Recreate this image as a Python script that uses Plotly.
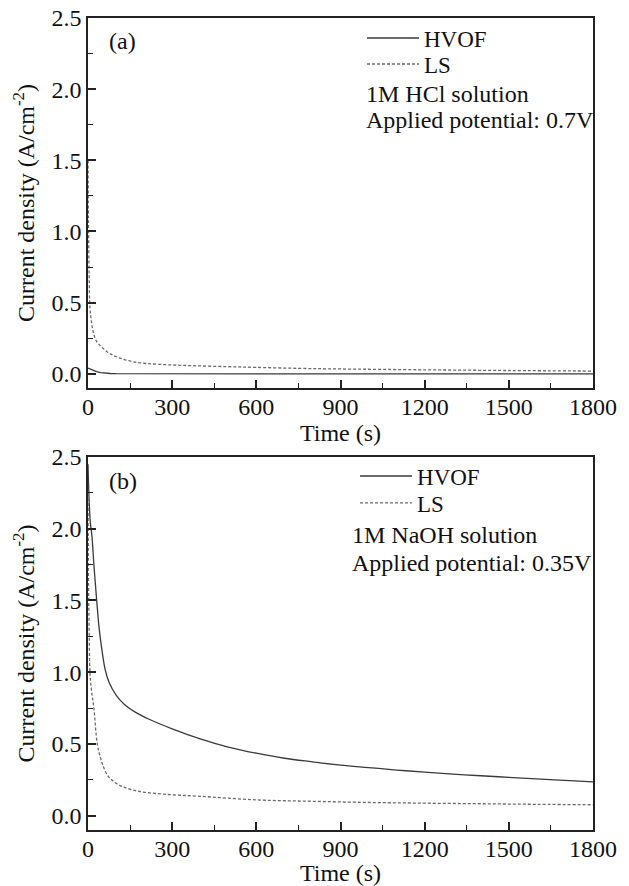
import plotly.graph_objects as go

# ---- Data ----
# Panel (a): 1M HCl, applied potential 0.7 V
t_a_hvof = [0, 5, 10, 20, 30, 45, 60, 80, 100, 200, 400, 600, 900, 1200, 1500, 1800]
j_a_hvof = [0.04, 0.035, 0.03, 0.022, 0.015, 0.008, 0.004, 0.002, 0.001, 0.0, 0.0, 0.0, 0.0, 0.0, 0.0, 0.0]

t_a_ls = [0, 1, 2, 4, 7, 12, 18, 30, 53, 80, 114, 160, 210, 300, 388, 500, 600, 756, 900, 1200, 1500, 1800]
j_a_ls = [1.5, 1.2, 1.0, 0.7, 0.46, 0.37, 0.30, 0.23, 0.18, 0.14, 0.11, 0.085, 0.072, 0.062, 0.056,
          0.05, 0.045, 0.038, 0.034, 0.028, 0.023, 0.019]

# Panel (b): 1M NaOH, applied potential 0.35 V
t_b_hvof = [0, 3, 8, 14, 21, 31, 40, 50, 61, 75, 100, 130, 170, 220, 300, 400, 500, 600, 700, 800,
            900, 1000, 1100, 1200, 1300, 1400, 1500, 1600, 1700, 1800]
j_b_hvof = [2.45, 2.25, 2.05, 1.95, 1.75, 1.5, 1.3, 1.15, 1.02, 0.93, 0.84, 0.775, 0.72, 0.67, 0.605,
            0.535, 0.478, 0.435, 0.40, 0.375, 0.352, 0.335, 0.318, 0.303, 0.29, 0.278, 0.267, 0.256,
            0.246, 0.236]

t_b_ls = [0, 2, 4, 7, 12, 21, 33, 45, 55, 70, 84, 105, 126, 180, 268, 400, 600, 800, 1000, 1200,
          1400, 1600, 1800]
j_b_ls = [2.25, 1.6, 1.3, 1.0, 0.88, 0.75, 0.5, 0.4, 0.34, 0.28, 0.25, 0.22, 0.2, 0.17, 0.15, 0.135,
          0.11, 0.1, 0.092, 0.087, 0.083, 0.079, 0.076]

x_ticks = [0, 300, 600, 900, 1200, 1500, 1800]
y_ticks = [0.0, 0.5, 1.0, 1.5, 2.0, 2.5]

FONT = "Liberation Serif, Times New Roman, serif"
SOLID_COLOR = "#3a3a3a"
DOT_COLOR = "#6a6a6a"
TXT = "#111"

fig = go.Figure()

fig.add_trace(go.Scatter(x=t_a_hvof, y=j_a_hvof, mode="lines", name="HVOF",
                         line=dict(color=SOLID_COLOR, width=1.3), xaxis="x", yaxis="y",
                         legend="legend"))
fig.add_trace(go.Scatter(x=t_a_ls, y=j_a_ls, mode="lines", name="LS",
                         line=dict(color=DOT_COLOR, width=1.3, dash="3px,2px", shape="spline"),
                         xaxis="x", yaxis="y", legend="legend2"))
fig.add_trace(go.Scatter(x=t_b_hvof, y=j_b_hvof, mode="lines", name="HVOF",
                         line=dict(color=SOLID_COLOR, width=1.3, shape="spline"),
                         xaxis="x2", yaxis="y2", legend="legend3"))
fig.add_trace(go.Scatter(x=t_b_ls, y=j_b_ls, mode="lines", name="LS",
                         line=dict(color=DOT_COLOR, width=1.3, dash="3px,2px", shape="spline"),
                         xaxis="x2", yaxis="y2", legend="legend4"))

axis_common = dict(
    showline=True, linecolor="#222", linewidth=1.6, mirror=True,
    ticks="inside", ticklen=8, tickwidth=1.5, tickcolor="#222",
    showgrid=False, zeroline=False, ticklabeloverflow="allow",
    tickfont=dict(family=FONT, size=24, color=TXT),
)

xaxis_common = dict(axis_common, range=[0, 1800], tickvals=x_ticks, ticklabelstandoff=-4,
                    minor=dict(ticks="inside", ticklen=5, tickwidth=1.3, tickcolor="#222", dtick=150, tick0=0),
                    title=dict(text="Time (s)", font=dict(family=FONT, size=24, color=TXT), standoff=0))
yaxis_common = dict(axis_common, range=[-0.1, 2.5], tickvals=y_ticks, tickformat=".1f",
                    minor=dict(ticks="inside", ticklen=5, tickwidth=1.3, tickcolor="#222", dtick=0.25, tick0=0),
                    title=dict(text="Current density (A/cm<sup>-2</sup>)",
                               font=dict(family=FONT, size=24, color=TXT), standoff=10))

legend_common = dict(font=dict(family=FONT, size=23, color=TXT), bgcolor="rgba(0,0,0,0)",
                     borderwidth=0, xanchor="left", yanchor="middle", itemwidth=52,
                     tracegroupgap=0, xref="paper", yref="paper")

fig.update_layout(
    width=621, height=878,
    margin=dict(l=80, r=36, t=10, b=56, autoexpand=False),
    paper_bgcolor="white", plot_bgcolor="white",
    font=dict(family=FONT, color=TXT),
    xaxis=dict(xaxis_common, domain=[0, 1], anchor="y"),
    yaxis=dict(yaxis_common, domain=[0.5443, 1.0], anchor="x"),
    xaxis2=dict(xaxis_common, domain=[0, 1], anchor="y2"),
    yaxis2=dict(yaxis_common, domain=[0.0, 0.4594], anchor="x2"),
    legend=dict(legend_common, x=0.5426, y=0.9753),
    legend2=dict(legend_common, x=0.5426, y=0.9433),
    legend3=dict(legend_common, x=0.5288, y=0.4359),
    legend4=dict(legend_common, x=0.5288, y=0.4027),
    showlegend=True,
)

ann_font = dict(family=FONT, size=24, color=TXT)
annotations = [
    dict(text="(a)", x=0.038, y=0.937, xref="x domain", yref="y domain"),
    dict(text="1M HCl solution", x=0.5465, y=0.795, xref="x domain", yref="y domain"),
    dict(text="Applied potential: 0.7V", x=0.5465, y=0.725, xref="x domain", yref="y domain"),
    dict(text="(b)", x=0.038, y=0.936, xref="x2 domain", yref="y2 domain"),
    dict(text="1M NaOH solution", x=0.519, y=0.791, xref="x2 domain", yref="y2 domain"),
    dict(text="Applied potential: 0.35V", x=0.519, y=0.716, xref="x2 domain", yref="y2 domain"),
]
for a in annotations:
    fig.add_annotation(**a, showarrow=False, xanchor="left", yanchor="middle", font=ann_font)

fig.write_html("out.html")
